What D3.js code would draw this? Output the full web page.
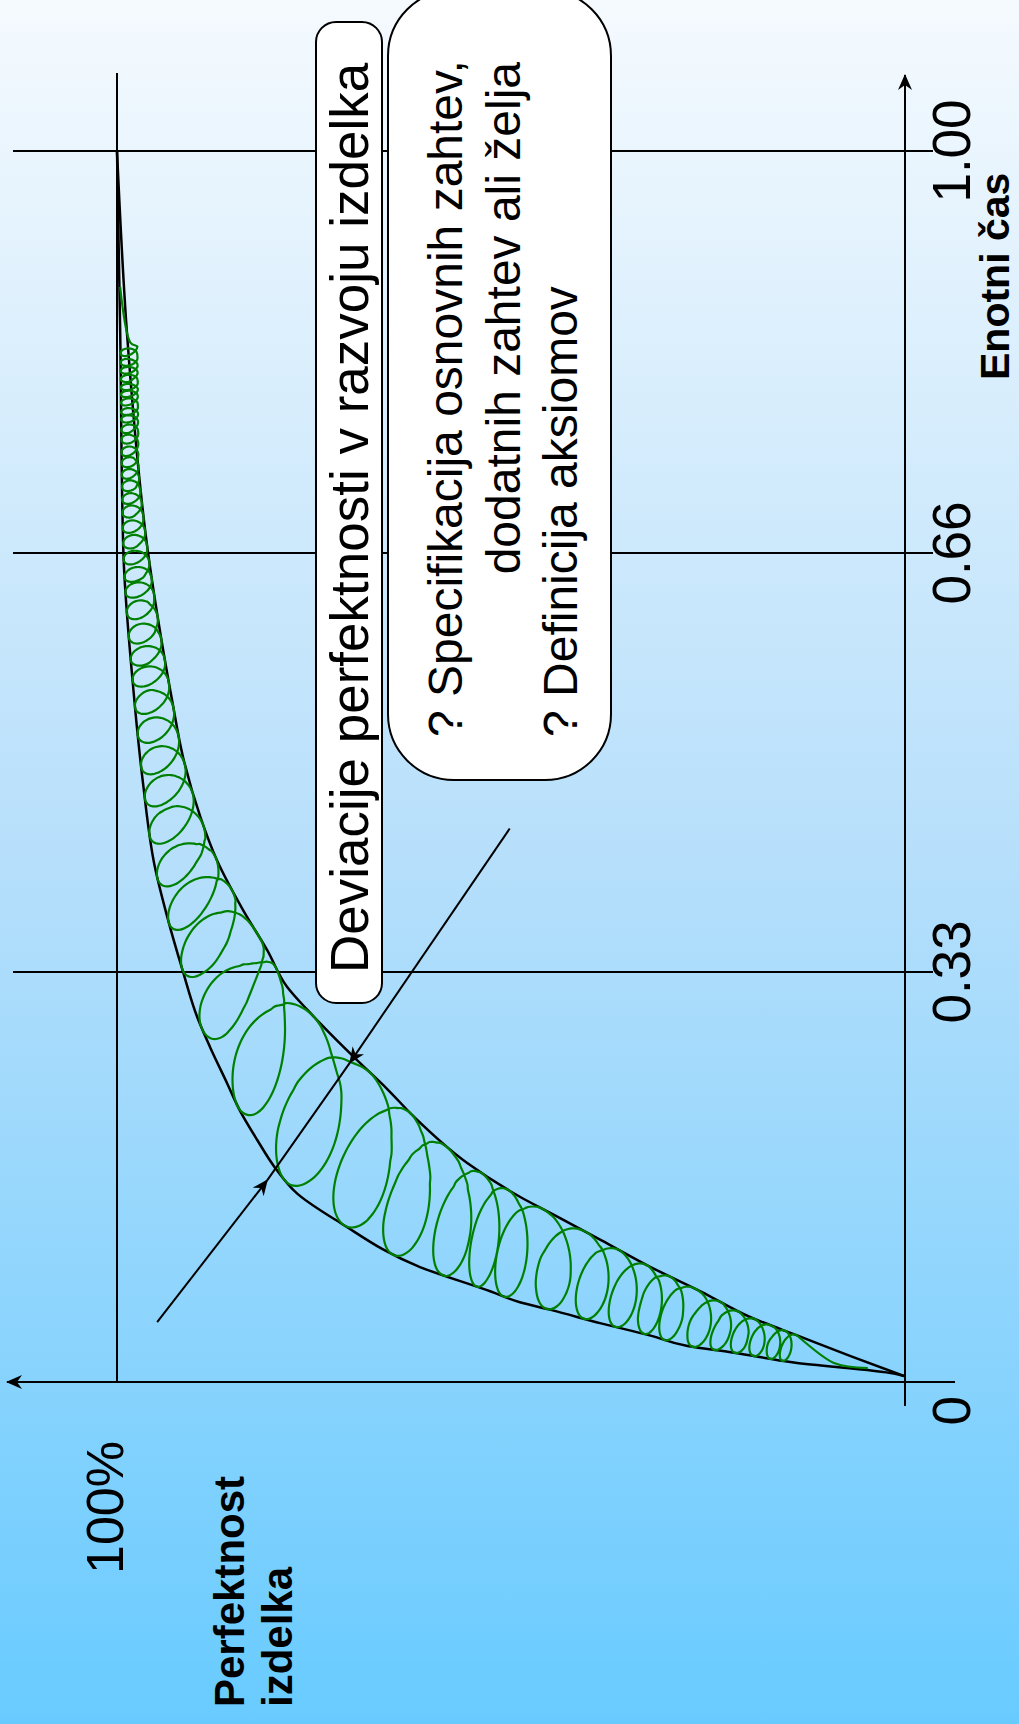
<!DOCTYPE html>
<html>
<head>
<meta charset="utf-8">
<script src="https://cdn.jsdelivr.net/npm/d3@7"></script>
<style>
    html, body { margin: 0; padding: 0; }
    body { width: 1019px; height: 1724px; overflow: hidden; }
    text { font-family: "Liberation Sans", Arial, Helvetica, sans-serif; }
</style>
</head>
<body>
<div id="chart"></div>
<script>
// the whole chart is drawn sideways: time runs up the page, perfection runs to the left

const timeTicks = [0, 0.33, 0.66, 1.00];
const timeTickLabels = ["0", "0.33", "0.66", "1.00"];

// fast rising edge of the deviation band (time, perfection %)
const edgeA_t = [0, 0.002, 0.011, 0.019, 0.0245, 0.033, 0.043, 0.054, 0.060, 0.069, 0.089, 0.125, 0.149, 0.170, 0.193, 0.217, 0.239, 0.269, 0.293, 0.332, 0.373, 0.413, 0.479, 0.558, 0.6625, 0.849, 1.0];
const edgeA_p = [0, 1.3, 14.0, 21.6, 27.5, 32.2, 38.5, 44.9, 48.7, 52.5, 61.5, 71.6, 77.1, 79.9, 82.2, 84.4, 86.0, 88.2, 89.8, 91.7, 93.6, 95.2, 96.7, 98.0, 99.2, 99.6, 100];

// slow edge of the band
const edgeB_t = [0, 0.016, 0.032, 0.048, 0.069, 0.089, 0.111, 0.133, 0.146, 0.174, 0.212, 0.234, 0.258, 0.277, 0.299, 0.318, 0.347, 0.379, 0.418, 0.452, 0.499, 0.544, 0.597, 0.6625, 0.843, 1.0];
const edgeB_p = [0, 6.7, 13.1, 19.5, 25.8, 32.2, 38.5, 44.9, 48.7, 55.5, 62.3, 65.6, 69.5, 72.5, 75.8, 78.4, 80.9, 84.0, 87.3, 89.4, 91.6, 93.0, 94.5, 96.1, 98.7, 100];

// time where every green loop touches the fast edge
const loopT = [0.0123, 0.0139, 0.0163, 0.0188, 0.0212, 0.0237, 0.0294, 0.0343, 0.040, 0.0466, 0.0547,
    0.065, 0.073, 0.082, 0.099, 0.123, 0.160, 0.221, 0.284, 0.333, 0.369, 0.404, 0.438, 0.467, 0.492,
    0.517, 0.539, 0.560, 0.576, 0.594, 0.613, 0.629, 0.641, 0.655, 0.668, 0.681, 0.694, 0.705, 0.716,
    0.726, 0.736, 0.745, 0.756, 0.764, 0.773, 0.779, 0.787, 0.794, 0.800, 0.807, 0.814, 0.821, 0.829];
// loose ends of the green coil
const coilTailT = [0.0065, 0.0106];
const coilTailP = [4.6, 8.9];
const coilHeadT = [0.838, 0.885];
const coilHeadP = [98.3, 99.6];

// the arrow that marks the width of the band: start, head 1, head 2, end
const arrowT = [0.044, 0.160, 0.256, 0.443];
const arrowP = [94.9, 80.9, 70.4, 50.1];

const titleText = "Deviacije perfektnosti v razvoju izdelka";
const noteLines = ["? Specifikacija osnovnih zahtev,", "dodatnih zahtev ali želja", "? Definicija aksiomov"];


const W = 1019, H = 1724;

const svg = d3.select("#chart").append("svg")
    .attr("width", W)
    .attr("height", H);

const defs = svg.append("defs");
const grad = defs.append("linearGradient")
    .attr("id", "bg")
    .attr("x1", 0).attr("y1", 0).attr("x2", 0).attr("y2", 1);
grad.append("stop").attr("offset", "0%").attr("stop-color", "#f5fafe");
grad.append("stop").attr("offset", "50%").attr("stop-color", "#b6dffb");
grad.append("stop").attr("offset", "100%").attr("stop-color", "#68cbff");

defs.append("marker")
    .attr("id", "arr")
    .attr("viewBox", "0 -7 16 14")
    .attr("refX", 15).attr("refY", 0)
    .attr("markerWidth", 16).attr("markerHeight", 14)
    .attr("markerUnits", "userSpaceOnUse")
    .attr("orient", "auto")
    .append("path")
    .attr("d", "M0,-7L16,0L0,7L5,0Z")
    .attr("fill", "black");

svg.append("rect")
    .attr("width", W).attr("height", H)
    .attr("fill", "url(#bg)");

// rotated frame: local x = time, local y = perfection
const g = svg.append("g")
    .attr("transform", `translate(0,${H}) rotate(-90)`);

const x = d3.scaleLinear().domain(timeTicks).range([348, 752, 1171, 1573]);
const y = d3.scaleLinear().domain([0, 100]).range([904, 117]);

// grid lines at the time ticks
g.selectAll(".grid")
    .data(timeTicks.filter(d => d > 0))
    .join("line")
    .attr("class", "grid")
    .attr("x1", d => x(d)).attr("x2", d => x(d))
    .attr("y1", 13).attr("y2", 933)
    .attr("stroke", "black")
    .attr("stroke-width", 2);

// time axis
g.append("line")
    .attr("x1", x(0) - 30).attr("x2", 1649)
    .attr("y1", y(0) + 1).attr("y2", y(0) + 1)
    .attr("stroke", "black").attr("stroke-width", 2)
    .attr("marker-end", "url(#arr)");

// perfection axis
g.append("line")
    .attr("x1", x(0) - 6).attr("x2", x(0) - 6)
    .attr("y1", 955).attr("y2", 7)
    .attr("stroke", "black").attr("stroke-width", 2)
    .attr("marker-end", "url(#arr)");

// 100% line
g.append("line")
    .attr("x1", x(0) - 6).attr("x2", 1651)
    .attr("y1", y(100)).attr("y2", y(100))
    .attr("stroke", "black").attr("stroke-width", 2);

// boxes
g.append("rect")
    .attr("x", 721).attr("y", 316)
    .attr("width", 981).attr("height", 66)
    .attr("rx", 20)
    .attr("fill", "white").attr("stroke", "black").attr("stroke-width", 2);

g.append("text")
    .text(titleText)
    .attr("x", 751).attr("y", 368)
    .attr("font-size", "53px");

g.append("rect")
    .attr("x", 944).attr("y", 388)
    .attr("width", 790).attr("height", 223)
    .attr("rx", 66)
    .attr("fill", "white").attr("stroke", "black").attr("stroke-width", 2);

g.selectAll(".note")
    .data(noteLines)
    .join("text")
    .attr("class", "note")
    .text(d => d)
    .attr("x", (d, i) => i === 1 ? 1662 : 987)
    .attr("y", (d, i) => 462 + i * 57.5)
    .attr("text-anchor", (d, i) => i === 1 ? "end" : "start")
    .attr("font-size", "48px");

// band edges
const edgeA = edgeA_t.map((t, i) => [t, edgeA_p[i]]);
const edgeB = edgeB_t.map((t, i) => [t, edgeB_p[i]]);

const line = d3.line()
    .x(d => x(d[0]))
    .y(d => y(d[1]))
    .curve(d3.curveMonotoneX);

const pathA = g.append("path")
    .attr("d", line(edgeA))
    .attr("fill", "none").attr("stroke", "black").attr("stroke-width", 2.5);

const pathB = g.append("path")
    .attr("d", line(edgeB))
    .attr("fill", "none").attr("stroke", "black").attr("stroke-width", 2.5);

// green coil wound between the two edges
function sampler(node) {
    const L = node.getTotalLength();
    const f = s => {
        const pt = node.getPointAtLength(Math.max(0, Math.min(1, s)) * L);
        return [pt.x, pt.y];
    };
    f.len = L;
    return f;
}
const onA = sampler(pathA.node());
const onB = sampler(pathB.node());

// for every spot on edge A, the closest spot on edge B
const N = 1000;
const ptsA = d3.range(N + 1).map(i => onA(i / N));
const ptsB = d3.range(N + 1).map(i => onB(i / N));
const nearB = ptsA.map(pa => {
    let best = 0, bd = Infinity;
    ptsB.forEach((pb, j) => {
        let dd = (pb[0] - pa[0]) ** 2 + (pb[1] - pa[1]) ** 2;
        if (dd < bd) { bd = dd; best = j; }
    });
    return best / N;
});
const nearAt = s => {
    let u = Math.max(0, Math.min(N, s * N));
    let i = Math.min(N - 1, Math.floor(u)), f = u - i;
    return nearB[i] * (1 - f) + nearB[i + 1] * f;
};

function fractionOnA(px) {
    let lo = 0, hi = 1;
    for (let i = 0; i < 40; i++) {
        let mid = (lo + hi) / 2;
        if (onA(mid)[0] < px) lo = mid; else hi = mid;
    }
    return (lo + hi) / 2;
}

const sK = loopT.map(t => fractionOnA(x(t)));
const n = sK.length;
const gap = k => {
    k = Math.max(0, Math.min(n - 1, k));
    let a = Math.max(0, k - 1), b = Math.min(n - 1, k + 1);
    return (sK[b] - sK[a]) / (b - a);
};

let coil = coilTailT.map((t, i) => [x(t), y(coilTailP[i])]);
const steps = 60;
for (let j = -steps / 2; j <= (n - 1) * steps + steps / 2; j++) {
    let th = j / steps * 2 * Math.PI;
    let u = j / steps;
    let k = Math.max(0, Math.min(n - 2, Math.floor(u)));
    let f = u - k;
    let sc = sK[k] + f * (sK[k + 1] - sK[k]);
    let ff = Math.max(0, Math.min(1, f));
    let P = gap(k) * (1 - ff) + gap(k + 1) * ff;
    let s = sc - 0.64 * P * Math.sin(th);
    let w = (1 - Math.cos(th)) / 2;
    let pa = onA(s);
    let sb = nearAt(s);
    let pb0 = onB(sb);
    let band = Math.hypot(pb0[0] - pa[0], pb0[1] - pa[1]);
    // loops lean forward, more where the band is wide
    let lean = Math.min(0.4 * band, band * band / 300);
    let pb = onB(sb + lean / onB.len);
    let dx = pb[0] - pa[0], dy = pb[1] - pa[1];
    let len = Math.hypot(dx, dy);
    let grow = len > 0 ? Math.max(1, 17 / len) : 1;
    coil.push([pa[0] + w * grow * dx, pa[1] + w * grow * dy]);
}
coilHeadT.forEach((t, i) => coil.push([x(t), y(coilHeadP[i])]));

g.append("path")
    .attr("d", d3.line().curve(d3.curveCatmullRom)(coil))
    .attr("fill", "none")
    .attr("stroke", "#008000")
    .attr("stroke-width", 2.2);

// width arrow
const ap = arrowT.map((t, i) => [x(t), y(arrowP[i])]);
g.append("line")
    .attr("x1", ap[1][0]).attr("y1", ap[1][1]).attr("x2", ap[2][0]).attr("y2", ap[2][1])
    .attr("stroke", "black").attr("stroke-width", 2);
g.append("line")
    .attr("x1", ap[0][0]).attr("y1", ap[0][1]).attr("x2", ap[1][0]).attr("y2", ap[1][1])
    .attr("stroke", "black").attr("stroke-width", 2)
    .attr("marker-end", "url(#arr)");
g.append("line")
    .attr("x1", ap[3][0]).attr("y1", ap[3][1]).attr("x2", ap[2][0]).attr("y2", ap[2][1])
    .attr("stroke", "black").attr("stroke-width", 2)
    .attr("marker-end", "url(#arr)");

// tick labels
g.selectAll(".tick")
    .data(timeTicks)
    .join("text")
    .attr("class", "tick")
    .text((d, i) => timeTickLabels[i])
    .attr("x", d => d === 0 ? x(d) - 20 : x(d))
    .attr("y", 970)
    .attr("text-anchor", d => d === 0 ? "end" : "middle")
    .attr("font-size", "53px");

g.append("text")
    .text("Enotni čas")
    .attr("x", 1344).attr("y", 1009)
    .attr("font-size", "41px")
    .attr("font-weight", "bold");

g.append("text")
    .text("100%")
    .attr("x", 150).attr("y", 123)
    .attr("font-size", "52px");

g.append("text")
    .text("Perfektnost")
    .attr("x", 17).attr("y", 244)
    .attr("font-size", "42px")
    .attr("font-weight", "bold");

g.append("text")
    .text("izdelka")
    .attr("x", 17).attr("y", 292)
    .attr("font-size", "42px")
    .attr("font-weight", "bold");
</script>
</body>
</html>
